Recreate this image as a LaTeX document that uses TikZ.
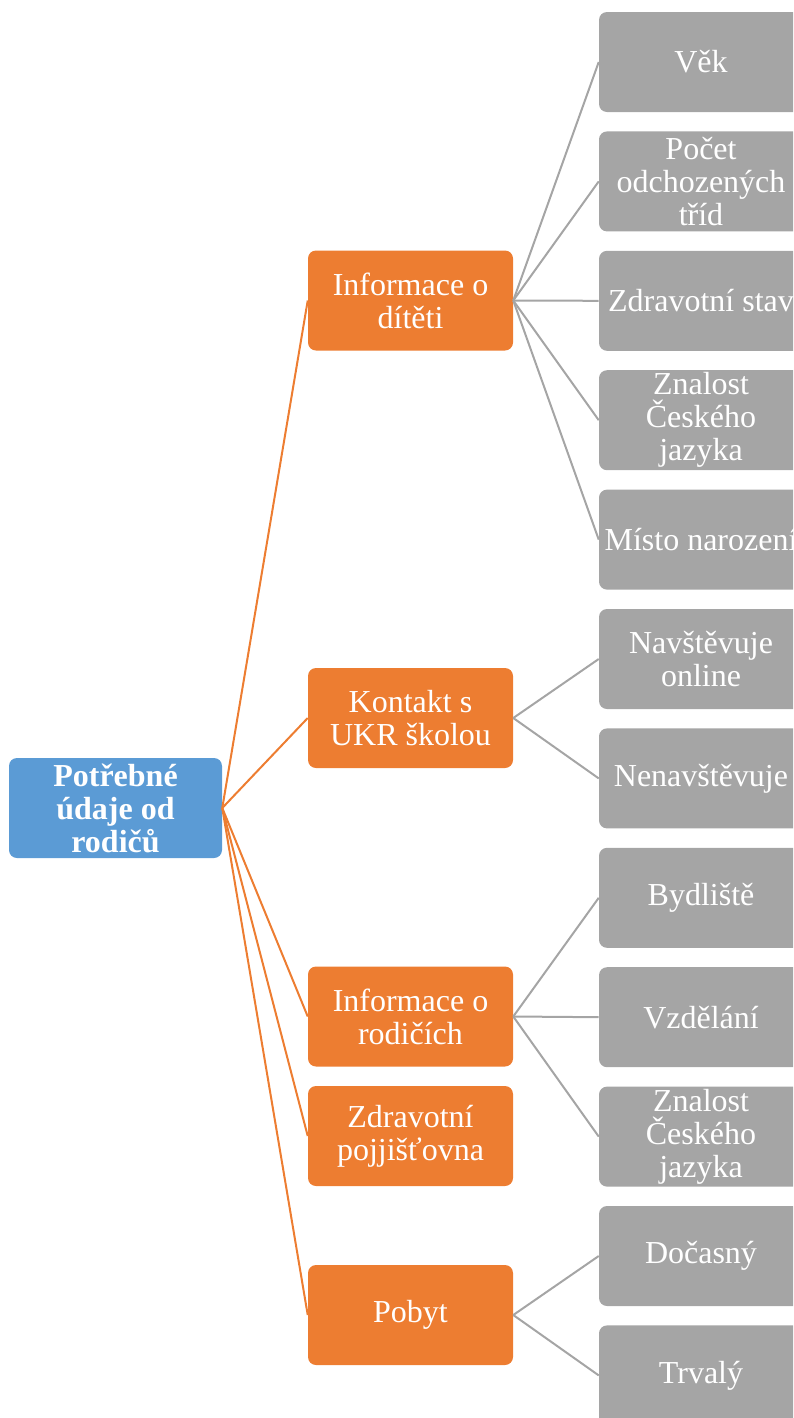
\documentclass[tikz,border=0pt]{standalone}
\usepackage{fontspec}
\setmainfont{Liberation Serif}
\definecolor{cblue}{HTML}{5B9BD5}
\definecolor{corange}{HTML}{ED7D31}
\definecolor{cgray}{HTML}{A5A5A5}
\tikzset{
  basebox/.style={rounded corners=6pt, align=center, text=white, inner sep=0pt,
    minimum height=75pt, font=\fontsize{24pt}{24.75pt}\selectfont},
  rootbox/.style={basebox, fill=cblue, minimum width=159.75pt,
    font=\fontsize{24pt}{24.75pt}\selectfont\bfseries},
  midbox/.style={basebox, fill=corange, minimum width=153.75pt},
  leafbox/.style={basebox, fill=cgray, minimum width=153pt},
  oline/.style={draw=corange, line width=1.5pt},
  gline/.style={draw=cgray, line width=1.5pt},
}
\begin{document}
\begin{tikzpicture}[x=0.75pt, y=-0.75pt]
\clip (0,0) rectangle (793,1418);
\useasboundingbox (0,0) rectangle (793,1418);

\node[rootbox] (root) at (115.5,808) {Potřebné\\údaje od\\rodičů};

\node[midbox] (m1) at (410.5,300.5) {Informace o\\dítěti};
\node[midbox] (m2) at (410.5,718) {Kontakt s\\UKR školou};
\node[midbox] (m3) at (410.5,1016.5) {Informace o\\rodičích};
\node[midbox] (m4) at (410.5,1136) {Zdravotní\\pojjišťovna};
\node[midbox] (m5) at (410.5,1315) {Pobyt};

\node[leafbox] (l1) at (701,62) {Věk};
\node[leafbox] (l2) at (701,181.4) {Počet\\odchozených\\tříd};
\node[leafbox] (l3) at (701,300.8) {Zdravotní stav};
\node[leafbox] (l4) at (701,420.2) {Znalost\\Českého\\jazyka};
\node[leafbox] (l5) at (701,539.6) {Místo narození};
\node[leafbox] (l6) at (701,659) {Navštěvuje\\online};
\node[leafbox] (l7) at (701,778.4) {Nenavštěvuje};
\node[leafbox] (l8) at (701,897.8) {Bydliště};
\node[leafbox] (l9) at (701,1017.2) {Vzdělání};
\node[leafbox] (l10) at (701,1136.6) {Znalost\\Českého\\jazyka};
\node[leafbox] (l11) at (701,1256) {Dočasný};
\node[leafbox] (l12) at (701,1375.4) {Trvalý};

\foreach \m in {m1,m2,m3,m4,m5}
  \draw[oline] (root.east) -- (\m.west);

\foreach \l in {l1,l2,l3,l4,l5}
  \draw[gline] (m1.east) -- (\l.west);
\foreach \l in {l6,l7}
  \draw[gline] (m2.east) -- (\l.west);
\foreach \l in {l8,l9,l10}
  \draw[gline] (m3.east) -- (\l.west);
\foreach \l in {l11,l12}
  \draw[gline] (m5.east) -- (\l.west);
\end{tikzpicture}
\end{document}
